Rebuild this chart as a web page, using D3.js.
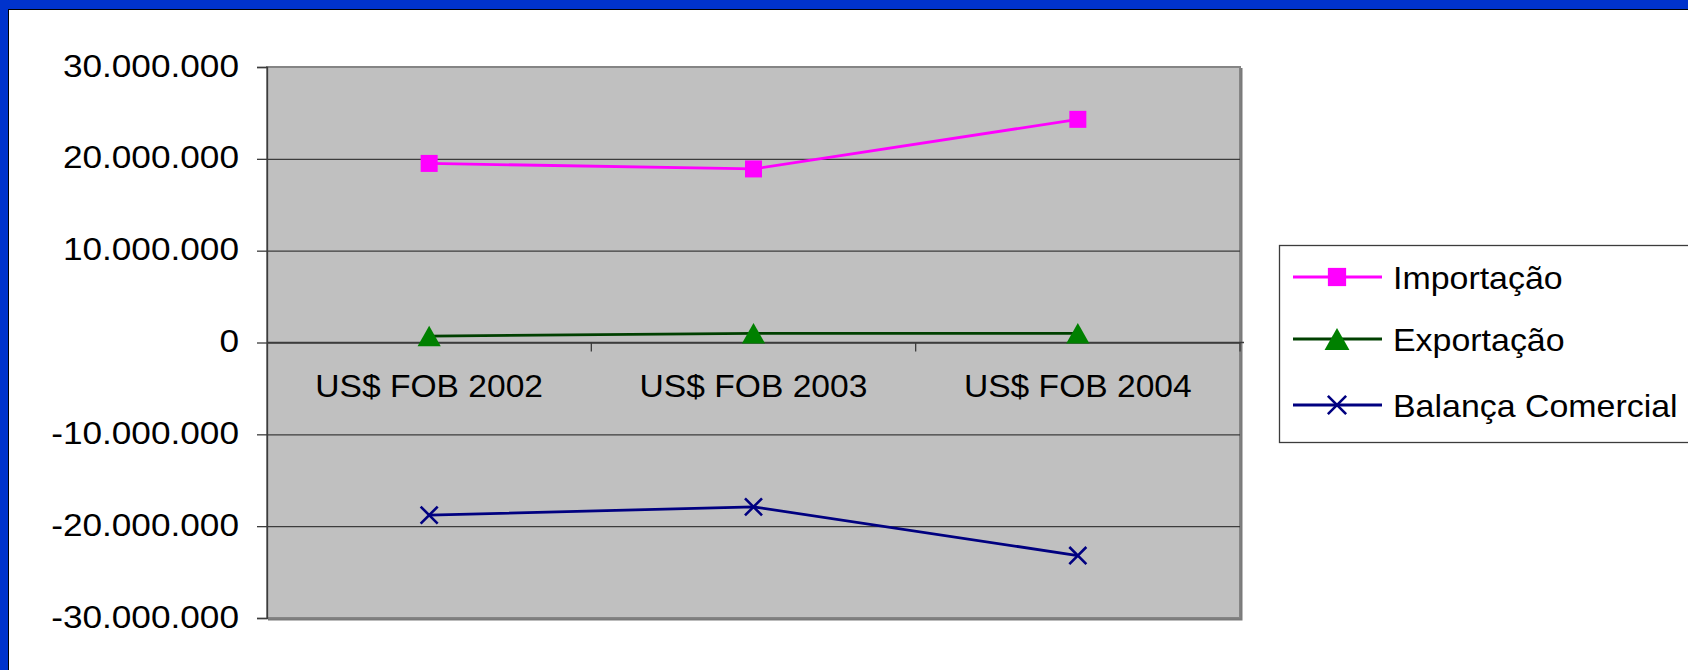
<!DOCTYPE html>
<html>
<head>
<meta charset="utf-8">
<script src="https://cdn.jsdelivr.net/npm/d3@7"></script>
<style>
  html, body { margin: 0; padding: 0; background: #fff; }
  svg { display: block; font-family: "Liberation Sans", Arial, sans-serif; }
</style>
</head>
<body>
<div id="chart"></div>
<script>
// values
const categories = ["US$ FOB 2002", "US$ FOB 2003", "US$ FOB 2004"];
const importacao = [19500000, 18900000, 24300000];
const exportacao = [700000, 1000000, 1000000];
const balanca = [-18800000, -17900000, -23200000];
const yTicks = [-30000000, -20000000, -10000000, 0, 10000000, 20000000, 30000000];
const seriesNames = ["Importação", "Exportação", "Balança Comercial"];

const width = 1688;
const height = 670;
const plot = ({left: 267, right: 1240, top: 67, bottom: 618});

const ptBR = d3.formatLocale({decimal: ",", thousands: ".", grouping: [3], currency: ["", ""], minus: "-"});
const fmt = ptBR.format(",d");

const svg = d3.select("#chart").append("svg")
    .attr("width", width)
    .attr("height", height);

// blue slide frame (top and left only)
svg.append("rect").attr("x", 0).attr("y", 0).attr("width", width).attr("height", height).attr("fill", "#0033cc");
svg.append("rect").attr("x", 8).attr("y", 9).attr("width", width).attr("height", height).attr("fill", "#000");
svg.append("rect").attr("x", 9).attr("y", 10).attr("width", width).attr("height", height).attr("fill", "#fff");

const x = d3.scaleBand()
    .domain(categories)
    .range([plot.left, plot.right])
    .padding(0);

const y = d3.scaleLinear()
    .domain([-30000000, 30000000])
    .range([plot.bottom, plot.top]);

const cx = d => x(d) + x.bandwidth() / 2;

// plot area
svg.append("rect")
    .attr("x", plot.left)
    .attr("y", plot.top)
    .attr("width", plot.right - plot.left)
    .attr("height", plot.bottom - plot.top)
    .attr("fill", "#c0c0c0")
    .attr("stroke", "#858585")
    .attr("stroke-width", 2);
// little shadow right and bottom
svg.append("path")
    .attr("d", `M${plot.right + 1.5},${plot.top + 1}V${plot.bottom + 1.5}H${plot.left + 1}`)
    .attr("fill", "none")
    .attr("stroke", "#7a7a7a")
    .attr("stroke-width", 2);

// gridlines
svg.append("g")
    .attr("transform", `translate(${plot.left},0)`)
    .call(d3.axisLeft(y)
        .tickValues(yTicks.filter(t => t > y.domain()[0] && t < y.domain()[1]))
        .tickSize(-(plot.right - plot.left))
        .tickFormat(""))
    .call(g => g.select(".domain").remove())
    .call(g => g.selectAll("line").attr("stroke", "#3c3c3c").attr("stroke-width", 1.3));

// y axis labels
svg.append("g")
    .attr("transform", `translate(${plot.left},0)`)
    .call(d3.axisLeft(y)
        .tickValues(yTicks)
        .tickSize(10)
        .tickFormat(fmt))
    .call(g => g.select(".domain").attr("stroke", "#3c3c3c").attr("stroke-width", 1.3))
    .call(g => g.selectAll(".tick line").attr("stroke", "#3c3c3c").attr("stroke-width", 1.3))
    .call(g => g.selectAll(".tick text")
        .attr("x", 0)
        .attr("dy", null)
        .attr("y", 0)
        .attr("transform", "translate(-28,9) scale(1.1,1)")
        .attr("text-anchor", "end")
        .attr("font-family", "Liberation Sans, Arial, sans-serif")
        .attr("font-size", 32)
        .attr("fill", "#000"));

// x axis at zero, with ticks between categories
const zeroY = y(0);
svg.append("line")
    .attr("x1", plot.left).attr("x2", plot.right + 4)
    .attr("y1", zeroY).attr("y2", zeroY)
    .attr("stroke", "#3c3c3c").attr("stroke-width", 1.3);
svg.append("g")
    .selectAll("line")
    .data(categories.slice(1).concat(["end"]))
    .join("line")
    .attr("x1", d => d === "end" ? plot.right : x(d))
    .attr("x2", d => d === "end" ? plot.right : x(d))
    .attr("y1", zeroY)
    .attr("y2", zeroY + 9)
    .attr("stroke", "#3c3c3c")
    .attr("stroke-width", 1.3);

svg.append("g")
    .attr("transform", `translate(0,${zeroY})`)
    .call(d3.axisBottom(x).tickSize(0))
    .call(g => g.select(".domain").remove())
    .call(g => g.selectAll(".tick text")
        .attr("y", 0)
        .attr("dy", null)
        .attr("transform", "translate(0,54) scale(1.05,1)")
        .attr("font-family", "Liberation Sans, Arial, sans-serif")
        .attr("font-size", 32)
        .attr("fill", "#000"));

// marker shapes
const squareSym = {draw(ctx, size) { const s = Math.sqrt(size) / 2; ctx.rect(-s, -s, 2 * s, 2 * s); }};
const triangleSym = {draw(ctx, size) {
    const w = Math.sqrt(size), h = w * 0.88;
    ctx.moveTo(0, -h / 2); ctx.lineTo(w / 2, h / 2); ctx.lineTo(-w / 2, h / 2); ctx.closePath();
}};
const crossSym = {draw(ctx, size) {
    const s = Math.sqrt(size) / 2;
    ctx.moveTo(-s, -s); ctx.lineTo(s, s); ctx.moveTo(s, -s); ctx.lineTo(-s, s);
}};

const series = [
    {name: seriesNames[0], values: importacao, line: "#ff00ff", marker: "#ff00ff", sym: squareSym, size: 289, fill: true},
    {name: seriesNames[1], values: exportacao, line: "#004000", marker: "#008000", sym: triangleSym, size: 540, fill: true},
    {name: seriesNames[2], values: balanca, line: "#000080", marker: "#000080", sym: crossSym, size: 290, fill: false}
];

const line = d3.line()
    .x((d, i) => cx(categories[i]))
    .y(d => y(d));

series.forEach(s => {
    svg.append("path")
        .attr("d", line(s.values))
        .attr("fill", "none")
        .attr("stroke", s.line)
        .attr("stroke-width", 2.8);
    svg.append("g")
        .selectAll("path")
        .data(s.values)
        .join("path")
        .attr("transform", (d, i) => `translate(${cx(categories[i])},${y(d)})`)
        .attr("d", d3.symbol(s.sym, s.size)())
        .attr("fill", s.fill ? s.marker : "none")
        .attr("stroke", s.fill ? "none" : s.marker)
        .attr("stroke-width", 2.6);
});

// legend
const legend = svg.append("g");
legend.append("rect")
    .attr("x", 1279.5)
    .attr("y", 245.5)
    .attr("width", 500)
    .attr("height", 197)
    .attr("fill", "#fff")
    .attr("stroke", "#3c3c3c")
    .attr("stroke-width", 1.3);

const legendRows = [277, 339, 405];
series.forEach((s, i) => {
    const ly = legendRows[i];
    legend.append("line")
        .attr("x1", 1293).attr("x2", 1382)
        .attr("y1", ly).attr("y2", ly)
        .attr("stroke", s.line)
        .attr("stroke-width", 2.8);
    legend.append("path")
        .attr("transform", `translate(1337,${ly})`)
        .attr("d", d3.symbol(s.sym, s.size * 1.15)())
        .attr("fill", s.fill ? s.marker : "none")
        .attr("stroke", s.fill ? "none" : s.marker)
        .attr("stroke-width", 2.6);
    legend.append("text")
        .attr("transform", `translate(1393,${ly + 8 + 4}) scale(1.06,1)`)
        .attr("font-size", 32)
        .attr("fill", "#000")
        .text(s.name);
});
</script>
</body>
</html>
